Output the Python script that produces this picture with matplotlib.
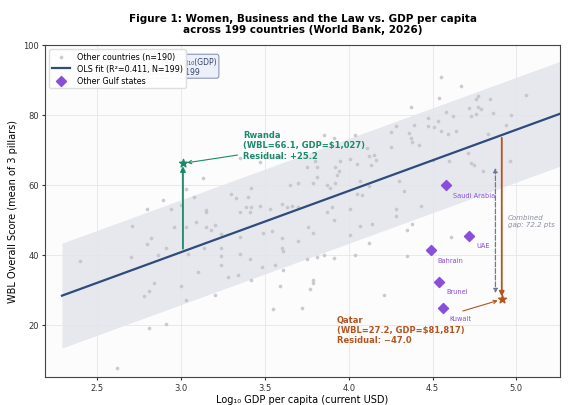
import matplotlib
matplotlib.use("Agg")
import matplotlib.pyplot as plt
import numpy as np

# ---- data ----
other_x = [2.71, 2.96, 3.03, 3.09, 3.15, 3.18, 3.20, 3.15, 2.82, 2.80, 2.91, 2.86, 2.70, 2.40,
           3.04, 3.14, 3.10, 2.84, 2.81, 2.78, 3.00, 3.03, 3.20, 2.81, 2.91, 2.62,
           3.13, 3.03, 3.08, 2.89, 2.80, 2.94, 3.00, 3.15,
           3.85, 3.91, 4.04, 4.11, 4.15, 4.12, 4.16, 4.13, 3.35, 3.47, 3.59, 3.80, 3.75, 3.81,
           3.92, 3.95, 4.01, 4.05, 3.94, 3.93, 3.81, 3.70, 3.65, 3.79, 3.87, 3.89, 3.92, 4.07,
           4.12, 3.42, 3.30, 3.33, 3.40, 4.05, 4.08, 3.39, 3.42, 3.47, 3.53, 3.60, 3.63, 3.66,
           3.70, 3.90, 4.01,
           4.55, 4.67, 4.54, 4.77, 4.76, 4.84, 5.06, 4.37, 4.72, 4.77, 4.79, 4.58, 4.86, 4.97,
           4.73, 4.76, 4.62, 4.47, 4.53, 4.39, 4.47, 4.51, 4.28, 4.25, 4.55, 4.59, 4.64, 4.36,
           4.37, 4.38, 4.42, 4.25, 4.83, 4.94, 4.71, 4.73, 4.75, 4.60, 4.80, 4.96, 4.50, 4.30,
           4.33, 4.43, 4.28,
           3.35, 3.41, 3.87, 3.91, 3.76, 3.79, 4.07, 4.14, 4.12, 4.01, 3.54, 3.49, 3.60, 3.70,
           3.35, 3.24, 3.24, 3.35, 3.24, 3.24, 3.41, 3.48, 3.56, 3.60, 3.61, 3.61, 3.75, 3.81,
           3.85, 3.91, 4.04, 3.28, 3.34, 3.42, 3.59, 3.79, 3.79, 3.77, 3.55, 3.72, 4.21,
           4.28, 4.38, 4.35, 4.61, 4.35]
other_y = [48.2, 48.0, 47.8, 49.4, 47.8, 47.1, 48.6, 52.3, 44.9, 43.1, 41.8, 39.9, 39.2, 38.3,
           40.2, 41.9, 34.9, 31.8, 29.7, 28.3, 30.9, 26.9, 28.5, 19.1, 20.1, 7.5,
           61.9, 58.9, 56.6, 55.6, 53.1, 53.1, 54.3, 52.9,
           74.3, 73.5, 74.1, 70.5, 68.6, 68.1, 67.1, 65.7, 67.6, 66.5, 67.8, 66.7, 65.1, 65.1,
           65.2, 66.7, 67.3, 65.9, 64.0, 62.7, 62.1, 60.5, 60.0, 60.5, 60.0, 59.2, 60.5, 61.1,
           59.5, 59.2, 57.3, 56.2, 56.4, 57.3, 57.1, 53.5, 53.6, 53.8, 53.1, 54.5, 53.6, 53.9,
           53.5, 53.5, 53.1,
           90.8, 88.1, 84.9, 85.5, 84.5, 84.6, 85.7, 82.1, 81.9, 82.2, 81.7, 80.9, 80.5, 79.8,
           79.7, 80.2, 79.7, 79.1, 78.3, 77.1, 76.7, 76.4, 76.7, 75.2, 75.4, 74.5, 75.5, 74.8,
           73.5, 72.1, 71.4, 70.9, 74.5, 77.1, 69.1, 66.2, 65.7, 66.7, 63.8, 66.7, 67.1, 61.1,
           58.1, 53.8, 53.1,
           52.3, 52.3, 52.1, 49.9, 48.0, 46.1, 48.1, 48.9, 43.3, 45.7, 46.7, 46.1, 44.9, 43.8,
           45.1, 45.9, 41.8, 40.2, 39.5, 36.9, 38.8, 36.4, 37.1, 41.9, 40.9, 35.6, 38.8, 39.2,
           39.9, 39.1, 39.9, 33.5, 34.2, 32.6, 30.9, 32.6, 31.8, 30.2, 24.5, 24.8, 28.5,
           51.1, 48.8, 47.1, 45.1, 39.5]

gulf_names = ["Saudi Arabia", "UAE", "Bahrain", "Brunei", "Kuwait"]
gulf_x = [4.58, 4.72, 4.49, 4.54, 4.56]
gulf_y = [59.8, 45.4, 41.3, 32.3, 24.6]

rwanda_gdp, rwanda_wbl, rwanda_res = 1027, 66.1, 25.2
qatar_gdp, qatar_wbl, qatar_res = 81817, 27.2, -47.0

slope, intercept, band = 17.52, -11.86, 15.0
fit_range = [2.29, 5.26]

# ---- colours ----
c_line = "#2f4b7c"
c_green = "#1b8a6b"
c_orange = "#b5541f"
c_purple = "#8a4fd8"
c_gap = "#6b7a99"

fig = plt.figure(figsize=(5.72, 4.06), dpi=100)
ax = fig.add_axes([0.079, 0.069, 0.900, 0.818])
ax.set_facecolor("#fcfcfd")

xs = np.linspace(fit_range[0], fit_range[1], 50)
ys = intercept + slope * xs
ax.fill_between(xs, ys - band, ys + band, color="#e3e5ec", alpha=0.85, lw=0, zorder=1)
ax.scatter(other_x, other_y, s=7, color="#c2c2c8", alpha=0.85, lw=0, zorder=2,
           label="Other countries (n=190)")
ax.plot(xs, ys, color=c_line, lw=1.6, zorder=3, label="OLS fit (R²=0.411, N=199)")

ax.scatter(gulf_x, gulf_y, marker="D", s=26, color=c_purple, zorder=5, label="Other Gulf states")
for n, gx, gy in zip(gulf_names, gulf_x, gulf_y):
    ax.annotate(n, (gx, gy), xytext=(5, -7), textcoords="offset points",
                fontsize=4.8, color=c_purple, va="center")

# Rwanda
rx = np.log10(rwanda_gdp)
r_pred = rwanda_wbl - rwanda_res
ax.annotate("", xy=(rx, rwanda_wbl), xytext=(rx, r_pred),
            arrowprops=dict(arrowstyle="-|>", color=c_green, lw=1.3, mutation_scale=7), zorder=4)
ax.scatter([rx], [rwanda_wbl], marker="*", s=35, color=c_green, zorder=6)
ax.annotate("Rwanda\n(WBL=66.1, GDP=$1,027)\nResidual: +25.2", xy=(rx, rwanda_wbl),
            xytext=(3.37, 71.4), fontsize=6, fontweight="bold", color=c_green, va="center",
            arrowprops=dict(arrowstyle="->", color=c_green, lw=0.8, shrinkB=3), zorder=6)

# Qatar
qx = np.log10(qatar_gdp)
q_pred = qatar_wbl - qatar_res
ax.annotate("", xy=(qx, qatar_wbl), xytext=(qx, q_pred),
            arrowprops=dict(arrowstyle="-|>", color=c_orange, lw=1.3, mutation_scale=7), zorder=4)
ax.scatter([qx], [qatar_wbl], marker="*", s=35, color=c_orange, zorder=6)
ax.annotate("Qatar\n(WBL=27.2, GDP=$81,817)\nResidual: \u221247.0", xy=(qx, qatar_wbl),
            xytext=(3.93, 18.6), fontsize=6, fontweight="bold", color=c_orange, va="center",
            arrowprops=dict(arrowstyle="->", color=c_orange, lw=0.8, shrinkB=3), zorder=6)

# combined gap
gx = 4.875
ax.annotate("", xy=(gx, qatar_wbl + 1), xytext=(gx, rwanda_wbl - 0.5),
            arrowprops=dict(arrowstyle="<|-|>", color=c_gap, lw=0.9, ls="--", mutation_scale=6),
            zorder=4)
ax.text(4.95, 49.7, "Combined\ngap: 72.2 pts", fontsize=5, style="italic", color="#8a8fa0",
        va="center")

# stats box (mostly under the legend)
ax.text(0.333, 0.965, "\u03b2 = 17.5 per log\u2081\u2080(GDP)\np < 0.001, N = 199",
        transform=ax.transAxes, ha="right", va="top", fontsize=5.5, color="#34406a",
        multialignment="left",
        bbox=dict(boxstyle="round,pad=0.3", fc="#edf0fa", ec="#7d88b0", lw=0.7), zorder=7)

leg = ax.legend(loc="upper left", fontsize=5.8, frameon=True, framealpha=0.95,
                borderpad=0.4, handlelength=2.2, labelspacing=0.35, bbox_to_anchor=(0.0, 1.0))
leg.set_zorder(10)
leg.get_frame().set_edgecolor("#dddddd")

ax.set_xlim(2.19, 5.26)
ax.set_ylim(5, 100)
ax.set_yticks([20, 40, 60, 80, 100])
ax.set_xticks([2.5, 3.0, 3.5, 4.0, 4.5, 5.0])
ax.grid(True, color="#e6e6ea", lw=0.6)
ax.set_axisbelow(True)
ax.tick_params(labelsize=6, colors="#333333", length=2.5, pad=2)
for sp in ax.spines.values():
    sp.set_color("#444444")
    sp.set_linewidth(0.8)

ax.set_xlabel("Log\u2081\u2080 GDP per capita (current USD)", fontsize=7, labelpad=1.5)
ax.set_ylabel("WBL Overall Score (mean of 3 pillars)", fontsize=7, labelpad=4)
fig.text(0.53, 0.94, "Figure 1: Women, Business and the Law vs. GDP per capita\n"
         "across 199 countries (World Bank, 2026)", ha="center", va="center",
         fontsize=7.5, fontweight="bold")

fig.savefig("out.png", dpi=100)
